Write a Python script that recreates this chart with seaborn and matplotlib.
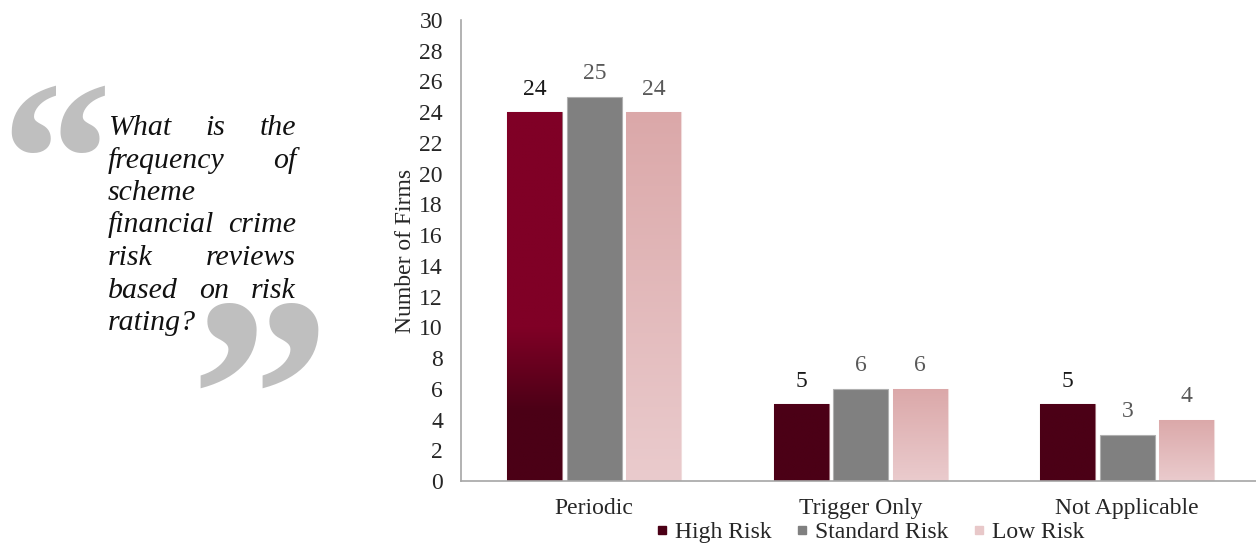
import numpy as np
import pandas as pd
import matplotlib
matplotlib.use("Agg")
import matplotlib.pyplot as plt
import matplotlib.colors as mcolors
from matplotlib.lines import Line2D
import seaborn as sns

# ---- data -------------------------------------------------------------
categories = ["Periodic", "Trigger Only", "Not Applicable"]
series = ["High Risk", "Standard Risk", "Low Risk"]
high_risk = [24, 5, 5]
standard_risk = [25, 6, 3]
low_risk = [24, 6, 4]
y_ticks = list(range(0, 31, 2))
question_lines = [
    ["What", "is", "the"],
    ["frequency", "of"],
    ["scheme"],
    ["financial", "crime"],
    ["risk", "reviews"],
    ["based", "on", "risk"],
    ["rating?"],
]
justified = [True, True, False, True, True, True, False]

df = pd.DataFrame({
    "Category": np.repeat(categories, len(series)),
    "Risk": series * len(categories),
    "Firms": np.ravel(np.column_stack([high_risk, standard_risk, low_risk])),
})

# ---- style -------------------------------------------------------------
sns.set_theme(style="white")
plt.rcParams["font.family"] = ["Liberation Serif", "DejaVu Serif"]
FS = 17

W, H = 1256, 545
fig = plt.figure(figsize=(W / 100, H / 100), dpi=100)
ax = fig.add_axes([461 / W, 1 - 481 / H, (W - 461) / W, (481 - 20) / H])

base_colors = {"High Risk": "#800026", "Standard Risk": "#808080", "Low Risk": "#dca9aa"}
sns.barplot(data=df, x="Category", y="Firms", hue="Risk", order=categories,
            hue_order=series, palette=base_colors, width=0.67, gap=0.08,
            legend=False, ax=ax, edgecolor="none")

# ---- gradient fills ---------------------------------------------------
high_top = np.array(mcolors.to_rgb("#800026"))
high_bot = np.array(mcolors.to_rgb("#4b0016"))
low_top = np.array(mcolors.to_rgb("#dba8a9"))
low_bot = np.array(mcolors.to_rgb("#eacbcd"))

label_colors = ["#1a1a1a", "#595959", "#595959"]
edge_colors = ["#a0707c", "#b0b0b0", "#f0dcdc"]
for ci, cont in enumerate(ax.containers):
    for bar in cont:
        x0, y0 = bar.get_x(), bar.get_y()
        w, h = bar.get_width(), bar.get_height()
        bar.set_edgecolor(edge_colors[ci])
        bar.set_linewidth(0.8)
        if ci == 1:
            continue
        n = 200
        ys = np.linspace(y0 + h, y0, n)  # top row first
        if ci == 0:
            # shading tied to the value scale: dark near the baseline
            t = np.clip((ys - 4.5) / (10 - 4.5), 0, 1)[:, None]
            rgb = high_bot + (high_top - high_bot) * t
        else:
            t = np.linspace(0, 1, n)[:, None]
            rgb = low_top + (low_bot - low_top) * t
        img = np.repeat(rgb[:, None, :], 2, axis=1)
        im = ax.imshow(img, extent=(x0, x0 + w, y0, y0 + h), aspect="auto",
                       interpolation="bilinear", zorder=bar.get_zorder() + 0.1)
        im.set_clip_path(bar)
    ax.bar_label(cont, padding=9, fontsize=FS, color=label_colors[ci])

ax.set_xlim(-0.5, 2.483)
ax.set_ylim(0, 30)

# ---- axes cosmetics ---------------------------------------------------
for side in ["top", "right"]:
    ax.spines[side].set_visible(False)
for side in ["left", "bottom"]:
    ax.spines[side].set_color("#a6a6a6")
    ax.spines[side].set_linewidth(1.2)
ax.set_yticks(y_ticks)
ax.tick_params(axis="y", length=0, pad=13, labelsize=FS, labelcolor="#262626")
ax.tick_params(axis="x", length=0, pad=12.5, labelsize=FS, labelcolor="#262626")
ax.set_xlabel("")
ax.set_ylabel("Number of Firms", fontsize=FS, color="#262626")
ax.yaxis.set_label_coords(-0.070, 0.5)
ax.yaxis.label.set_va("center")

# ---- legend ------------------------------------------------------------
legend_colors = ["#4b0016", "#808080", "#e8c8c9"]
handles = [Line2D([], [], marker="s", ls="", color=c, markersize=5.5) for c in legend_colors]
fig.legend(handles, series, loc="center", bbox_to_anchor=(870 / W, 1 - 532 / H),
           ncol=3, frameon=False, fontsize=FS, handlelength=0.5, handletextpad=0.3,
           columnspacing=1.05, labelcolor="#262626", borderpad=0)

# ---- pull-quote --------------------------------------------------------
quote_gray = "#bfbfbf"
fig.text(0 / W, 1 - 79 / H, "\u201c", fontsize=160, fontweight="bold",
         color=quote_gray, ha="left", va="top")
fig.text(189 / W, 1 - 295 / H, "\u201d", fontsize=203, fontweight="bold",
         color=quote_gray, ha="left", va="top", zorder=0)

renderer = fig.canvas.get_renderer()
left_px, right_px = 108, 296
baseline0, step = 135, 32.5
for i, (words, just) in enumerate(zip(question_lines, justified)):
    yb = 1 - (baseline0 + i * step) / H
    texts = [fig.text(0, yb, wd, fontsize=21.5, style="italic", color="#111111",
                      ha="left", va="baseline") for wd in words]
    widths = [t.get_window_extent(renderer).width for t in texts]
    if just and len(words) > 1:
        space = (right_px - left_px - sum(widths)) / (len(words) - 1)
    else:
        space = 6
    x = left_px
    for t, wpx in zip(texts, widths):
        t.set_x(x / W)
        x += wpx + space

fig.savefig("out.png", dpi=100)
